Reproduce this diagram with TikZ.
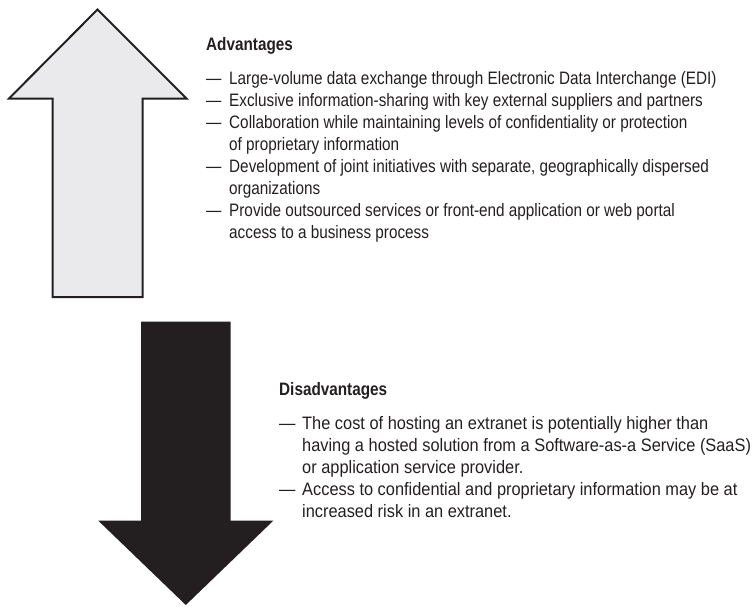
\documentclass[tikz,border=0pt]{standalone}
\usepackage{fontspec}
\setmainfont{Liberation Sans}[FakeStretch=0.85]
\newfontfamily\widesans{Liberation Sans}[FakeStretch=0.91]
\usepackage{tikz}
\usepackage{xcolor}

\definecolor{inkblack}{RGB}{35,31,32}
\definecolor{upgray}{RGB}{234,234,236}

% dash in front of an item, and the indent of its next lines
\newcommand{\dashitem}{\makebox[23pt][l]{—}}
\newcommand{\hangline}{\hspace*{23pt}}

\begin{document}
\begin{tikzpicture}[x=1pt,y=-1pt,
		every node/.style={inner sep=0pt,text=inkblack},
		listhead/.style={font=\fontsize{18}{22}\selectfont\bfseries,anchor=base west},
		listbody/.style={font=\fontsize{18}{22}\selectfont,align=left,anchor=base west}]
					\useasboundingbox (0,0) rectangle (753,606);
					
					% Up arrow
					\draw[line width=2pt,line join=miter,fill=upgray,draw=inkblack]
						(97.5,9.5) -- (186.5,98.5) -- (142.7,98.5) -- (142.7,297)
						-- (52.7,297) -- (52.7,98.5) -- (9,98.5) -- cycle;
					
					% Down arrow
					\fill[inkblack]
						(141,321.7) -- (230.7,321.7) -- (230.7,520.7) -- (273.3,520.7)
						-- (185.8,605) -- (98.3,520.7) -- (141,520.7) -- cycle;
					
					% Advantages (body placed by its last line)
					\node[listhead] (advhead) at (206,50) {Advantages};
					\node[listbody] (advlist) at (206,238) {%
						\dashitem Large-volume data exchange through Electronic Data Interchange (EDI)\\
						\dashitem Exclusive information-sharing with key external suppliers and partners\\
						\dashitem Collaboration while maintaining levels of confidentiality or protection\\
						\hangline of proprietary information\\
						\dashitem Development of joint initiatives with separate, geographically dispersed\\
						\hangline organizations\\
						\dashitem Provide outsourced services or front-end application or web portal\\
						\hangline access to a business process};
					
					% Disadvantages (body placed by its last line)
					\node[listhead] (dishead) at (279,395) {Disadvantages};
					\node[listbody,font=\widesans\fontsize{18}{22}\selectfont] (dislist) at (279,517) {%
						\dashitem The cost of hosting an extranet is potentially higher than\\
						\hangline having a hosted solution from a Software-as-a Service (SaaS)\\
						\hangline or application service provider.\\
						\dashitem Access to confidential and proprietary information may be at\\
						\hangline increased risk in an extranet.};
				\end{tikzpicture}
\end{document}
